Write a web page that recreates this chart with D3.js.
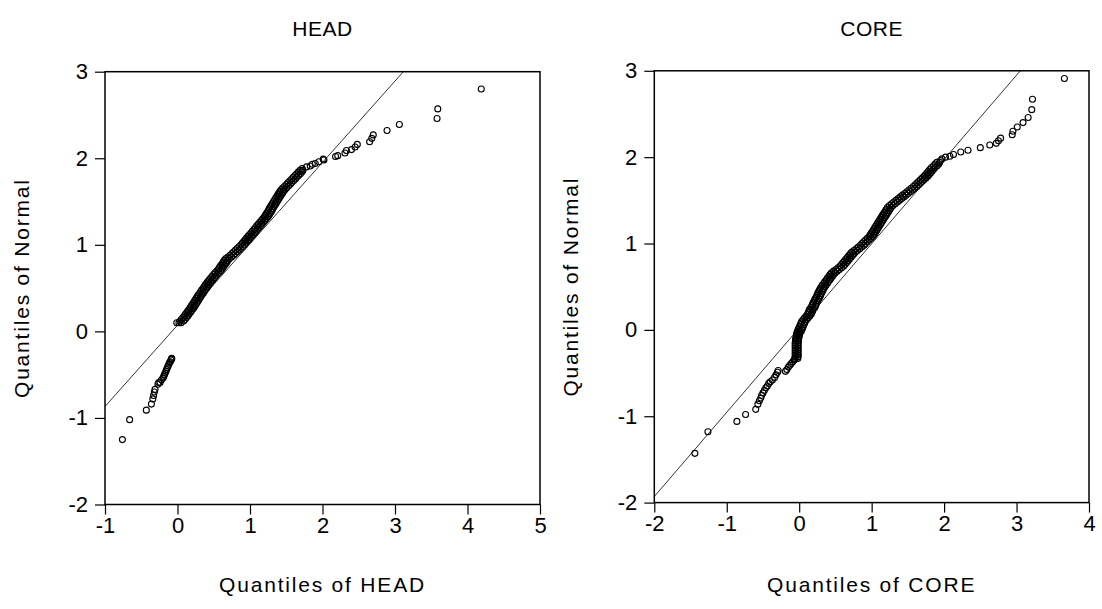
<!DOCTYPE html>
<html>
<head>
<meta charset="utf-8">
<script src="https://cdn.jsdelivr.net/npm/d3@7"></script>
<style>
  body { margin: 0; background: #fff; }
  svg { display: block; font-family: Arial, "Liberation Sans", sans-serif; }
</style>
</head>
<body>
<svg id="chart" width="1102" height="609"></svg>
<script>
// ---- data (x = sample quantile, y = normal quantile)
var headLower = [[-0.76,-1.25],[-0.66,-1.02],[-0.43,-0.91],[-0.36,-0.84],[-0.34,-0.78],[-0.33,-0.74],[-0.32,-0.70],[-0.31,-0.67],
  [-0.27,-0.61],[-0.26,-0.59],[-0.24,-0.59],[-0.22,-0.56],[-0.20,-0.54],[-0.19,-0.52],[-0.18,-0.50],[-0.17,-0.48],[-0.16,-0.46],
  [-0.15,-0.44],[-0.14,-0.42],[-0.13,-0.40],[-0.12,-0.38],[-0.11,-0.36],[-0.10,-0.35],[-0.09,-0.33],[-0.08,-0.32],[-0.08,-0.31]];
var headBand = [[-0.01,0.10],[0.02,0.10],[0.05,0.10],
  [0.035,0.12],[0.085,0.12],[0.055,0.14],[0.105,0.14],[0.075,0.16],[0.125,0.16],[0.095,0.18],[0.145,0.18],
  [0.11,0.20],[0.16,0.20],[0.13,0.22],[0.18,0.22],[0.145,0.24],[0.195,0.24],[0.165,0.26],[0.215,0.26],
  [0.18,0.28],[0.23,0.28],[0.195,0.30],[0.245,0.30],[0.21,0.32],[0.26,0.32],[0.225,0.34],[0.275,0.34],
  [0.24,0.36],[0.29,0.36],[0.255,0.38],[0.305,0.38],[0.27,0.40],[0.32,0.40],[0.285,0.42],[0.335,0.42],
  [0.305,0.44],[0.355,0.44],[0.32,0.46],[0.37,0.46],[0.335,0.48],[0.385,0.48],[0.355,0.50],[0.405,0.50],
  [0.37,0.52],[0.42,0.52],[0.385,0.54],[0.435,0.54],[0.405,0.56],[0.455,0.56],[0.42,0.58],[0.47,0.58],
  [0.44,0.60],[0.49,0.60],[0.46,0.62],[0.51,0.62],[0.48,0.64],[0.53,0.64],[0.50,0.66],[0.55,0.66],
  [0.52,0.68],[0.57,0.68],[0.545,0.70],[0.595,0.70],[0.565,0.72],[0.615,0.72],[0.58,0.74],[0.63,0.74],
  [0.595,0.76],[0.645,0.76],[0.615,0.78],[0.665,0.78],[0.63,0.80],[0.68,0.80],[0.645,0.82],[0.695,0.82],
  [0.665,0.84],[0.715,0.84],[0.695,0.86],[0.745,0.86],[0.725,0.88],[0.775,0.88],[0.75,0.90],[0.80,0.90],
  [0.775,0.92],[0.825,0.92],[0.80,0.94],[0.85,0.94],[0.825,0.96],[0.875,0.96],[0.85,0.98],[0.90,0.98],
  [0.875,1.00],[0.925,1.00],[0.895,1.02],[0.945,1.02],[0.915,1.04],[0.965,1.04],[0.935,1.06],[0.985,1.06],
  [0.955,1.08],[1.005,1.08],[0.975,1.10],[1.025,1.10],[0.995,1.12],[1.045,1.12],[1.015,1.14],[1.065,1.14],
  [1.035,1.16],[1.085,1.16],[1.055,1.18],[1.105,1.18],[1.075,1.20],[1.125,1.20],[1.095,1.22],[1.145,1.22],
  [1.115,1.24],[1.165,1.24],[1.135,1.26],[1.185,1.26],[1.155,1.28],[1.205,1.28],[1.175,1.30],[1.225,1.30],
  [1.195,1.32],[1.245,1.32],[1.21,1.34],[1.26,1.34],[1.225,1.36],[1.275,1.36],[1.24,1.38],[1.29,1.38],
  [1.255,1.40],[1.305,1.40],[1.265,1.42],[1.315,1.42],[1.28,1.44],[1.33,1.44],[1.295,1.46],[1.345,1.46],
  [1.31,1.48],[1.36,1.48],[1.325,1.50],[1.375,1.50],[1.34,1.52],[1.39,1.52],[1.355,1.54],[1.405,1.54],
  [1.37,1.56],[1.42,1.56],[1.385,1.58],[1.435,1.58],[1.40,1.60],[1.45,1.60],[1.415,1.62],[1.465,1.62],
  [1.435,1.64],[1.485,1.64],[1.455,1.66],[1.505,1.66],[1.48,1.68],[1.53,1.68],[1.505,1.70],[1.555,1.70],
  [1.525,1.72],[1.575,1.72],[1.55,1.74],[1.60,1.74],[1.575,1.76],[1.625,1.76],[1.595,1.78],[1.645,1.78],
  [1.62,1.80],[1.67,1.80],[1.645,1.82],[1.695,1.82],[1.665,1.84],[1.715,1.84],[1.69,1.86],[1.73,1.86],[1.72,1.88]];
var headUpper = [[1.78,1.90],[1.83,1.91],[1.86,1.93],[1.90,1.94],[1.95,1.96],[2.01,1.99],[2.02,1.98],[2.18,2.02],[2.21,2.03],
  [2.31,2.06],[2.33,2.09],[2.40,2.10],[2.45,2.13],[2.48,2.16],[2.65,2.19],[2.68,2.23],[2.70,2.27],[2.89,2.32],[3.06,2.39],
  [3.58,2.46],[3.59,2.57],[4.19,2.80]];

var coreLower = [[-1.44,-1.43],[-1.26,-1.18],[-0.86,-1.06],[-0.74,-0.98],[-0.60,-0.92],[-0.57,-0.86],[-0.55,-0.82],[-0.53,-0.79],
  [-0.52,-0.76],[-0.50,-0.73],[-0.48,-0.70],[-0.46,-0.67],[-0.44,-0.65],[-0.42,-0.62],[-0.40,-0.60],[-0.37,-0.58],[-0.34,-0.55],
  [-0.32,-0.52],[-0.30,-0.49],[-0.29,-0.47],[-0.19,-0.48],[-0.17,-0.46],[-0.15,-0.43],[-0.13,-0.41],[-0.11,-0.39],[-0.09,-0.37],
  [-0.07,-0.35],[-0.06,-0.34]];
var coreStem = [[-0.06,-0.33],[-0.02,-0.33],[-0.055,-0.31],[-0.015,-0.31],[-0.055,-0.29],[-0.015,-0.29],[-0.055,-0.27],[-0.015,-0.27],
  [-0.055,-0.25],[-0.015,-0.25],[-0.055,-0.23],[-0.015,-0.23],[-0.055,-0.21],[-0.015,-0.21],[-0.055,-0.19],[-0.015,-0.19],
  [-0.055,-0.17],[-0.015,-0.17],[-0.055,-0.15],[-0.015,-0.15],[-0.05,-0.13],[-0.01,-0.13],[-0.05,-0.11],[-0.01,-0.11],
  [-0.045,-0.09],[-0.005,-0.09],[-0.04,-0.07],[0.00,-0.07],[-0.035,-0.05],[0.005,-0.05],[-0.03,-0.03],[0.01,-0.03]];
var coreBand = [[-0.025,-0.02],[0.025,-0.02],[-0.015,0.00],[0.035,0.00],[-0.005,0.02],[0.045,0.02],[0.005,0.04],[0.055,0.04],
  [0.015,0.06],[0.065,0.06],[0.025,0.08],[0.075,0.08],[0.035,0.10],[0.085,0.10],[0.055,0.12],[0.105,0.12],
  [0.075,0.14],[0.125,0.14],[0.095,0.16],[0.145,0.16],[0.115,0.18],[0.165,0.18],[0.125,0.20],[0.175,0.20],
  [0.135,0.22],[0.185,0.22],[0.145,0.24],[0.195,0.24],[0.165,0.26],[0.215,0.26],[0.175,0.28],[0.225,0.28],
  [0.185,0.30],[0.235,0.30],[0.195,0.32],[0.245,0.32],[0.21,0.34],[0.26,0.34],[0.22,0.36],[0.27,0.36],
  [0.235,0.38],[0.285,0.38],[0.245,0.40],[0.295,0.40],[0.255,0.42],[0.305,0.42],[0.265,0.44],[0.315,0.44],
  [0.28,0.46],[0.33,0.46],[0.29,0.48],[0.34,0.48],[0.305,0.50],[0.355,0.50],[0.32,0.52],[0.37,0.52],
  [0.34,0.54],[0.39,0.54],[0.355,0.56],[0.405,0.56],[0.375,0.58],[0.425,0.58],[0.39,0.60],[0.44,0.60],
  [0.41,0.62],[0.46,0.62],[0.425,0.64],[0.475,0.64],[0.445,0.66],[0.495,0.66],[0.475,0.68],[0.525,0.68],
  [0.505,0.70],[0.555,0.70],[0.535,0.72],[0.585,0.72],[0.565,0.74],[0.615,0.74],[0.585,0.76],[0.635,0.76],
  [0.605,0.78],[0.655,0.78],[0.625,0.80],[0.675,0.80],[0.645,0.82],[0.695,0.82],[0.665,0.84],[0.715,0.84],
  [0.685,0.86],[0.735,0.86],[0.705,0.88],[0.755,0.88],[0.725,0.90],[0.775,0.90],[0.755,0.92],[0.805,0.92],
  [0.785,0.94],[0.835,0.94],[0.815,0.96],[0.865,0.96],[0.845,0.98],[0.895,0.98],[0.865,1.00],[0.915,1.00],
  [0.89,1.02],[0.94,1.02],[0.915,1.04],[0.965,1.04],[0.94,1.06],[0.99,1.06],[0.965,1.08],[1.015,1.08],
  [0.98,1.10],[1.03,1.10],[0.995,1.12],[1.045,1.12],[1.01,1.14],[1.06,1.14],[1.025,1.16],[1.075,1.16],
  [1.04,1.18],[1.09,1.18],[1.055,1.20],[1.105,1.20],[1.07,1.22],[1.12,1.22],[1.085,1.24],[1.135,1.24],
  [1.10,1.26],[1.15,1.26],[1.115,1.28],[1.165,1.28],[1.13,1.30],[1.18,1.30],[1.145,1.32],[1.195,1.32],
  [1.16,1.34],[1.21,1.34],[1.175,1.36],[1.225,1.36],[1.19,1.38],[1.24,1.38],[1.205,1.40],[1.255,1.40],
  [1.22,1.42],[1.27,1.42],[1.245,1.44],[1.295,1.44],[1.275,1.46],[1.325,1.46],[1.305,1.48],[1.355,1.48],
  [1.335,1.50],[1.385,1.50],[1.365,1.52],[1.415,1.52],[1.395,1.54],[1.445,1.54],[1.425,1.56],[1.475,1.56],
  [1.455,1.58],[1.505,1.58],[1.485,1.60],[1.535,1.60],[1.515,1.62],[1.565,1.62],[1.545,1.64],[1.595,1.64],
  [1.575,1.66],[1.625,1.66],[1.60,1.68],[1.65,1.68],[1.625,1.70],[1.675,1.70],[1.65,1.72],[1.70,1.72],
  [1.675,1.74],[1.725,1.74],[1.70,1.76],[1.75,1.76],[1.725,1.78],[1.775,1.78],[1.745,1.80],[1.795,1.80],
  [1.765,1.82],[1.815,1.82],[1.785,1.84],[1.835,1.84],[1.805,1.86],[1.855,1.86],[1.825,1.88],[1.875,1.88],
  [1.855,1.90],[1.905,1.90],[1.875,1.92],[1.925,1.92],[1.90,1.94],[1.94,1.94],[1.95,1.96],[1.97,1.98]];
var coreUpper = [[2.02,2.00],[2.08,2.01],[2.13,2.03],[2.23,2.06],[2.33,2.08],[2.50,2.11],[2.63,2.14],[2.72,2.16],[2.75,2.19],
  [2.78,2.22],[2.94,2.26],[2.95,2.30],[3.01,2.35],[3.09,2.40],[3.16,2.46],[3.21,2.55],[3.22,2.67],[3.66,2.91]];

// reference lines: [intercept, slope]
var headFit = [0.072, 0.94];
var coreFit = [0.022, 0.976];

var normalTicks = [-2, -1, 0, 1, 2, 3];
var headTicks = [-1, 0, 1, 2, 3, 4, 5];
var coreTicks = [-2, -1, 0, 1, 2, 3, 4];

var svg = d3.select('#chart');

function panel(cfg) {
  var x = d3.scaleLinear().domain(d3.extent(cfg.xticks)).range([cfg.left, cfg.right]);
  var y = d3.scaleLinear().domain(d3.extent(normalTicks)).range([cfg.bottom, cfg.top]);
  var g = svg.append('g');

  g.append('clipPath').attr('id', cfg.id + '-clip')
    .append('rect').attr('x', cfg.left).attr('y', cfg.top)
    .attr('width', cfg.right - cfg.left).attr('height', cfg.bottom - cfg.top);

  // fitted line
  var xd = x.domain();
  g.append('line').attr('clip-path', 'url(#' + cfg.id + '-clip)')
    .attr('x1', x(xd[0])).attr('y1', y(cfg.fit[0] + cfg.fit[1] * xd[0]))
    .attr('x2', x(xd[1])).attr('y2', y(cfg.fit[0] + cfg.fit[1] * xd[1]))
    .attr('stroke', '#000').attr('stroke-width', 0.8);

  // points
  g.append('g').selectAll('circle').data(cfg.points).join('circle')
    .attr('cx', function(d) { return x(d[0]); })
    .attr('cy', function(d) { return y(d[1]); })
    .attr('r', 3)
    .attr('fill', 'none').attr('stroke', '#000').attr('stroke-width', 1.1);

  // frame
  g.append('rect').attr('x', cfg.left).attr('y', cfg.top)
    .attr('width', cfg.right - cfg.left).attr('height', cfg.bottom - cfg.top)
    .attr('fill', 'none').attr('stroke', '#000').attr('stroke-width', 1.5);

  var fmt = function(d) { return String(d); };
  var yAxis = g.append('g').attr('transform', 'translate(' + cfg.left + ',0)')
    .call(d3.axisLeft(y).tickValues(normalTicks).tickSize(10).tickPadding(7).tickFormat(fmt));
  var xAxis = g.append('g').attr('transform', 'translate(0,' + cfg.bottom + ')')
    .call(d3.axisBottom(x).tickValues(cfg.xticks).tickSize(10).tickPadding(3).tickFormat(fmt));
  [yAxis, xAxis].forEach(function(a) {
    a.select('.domain').remove();
    a.selectAll('line').attr('stroke', '#000').attr('stroke-width', 1.2);
    a.selectAll('text').attr('font-size', 22).attr('fill', '#000').attr('font-family', 'Arial, "Liberation Sans", sans-serif');
  });

  var cx = (cfg.left + cfg.right) / 2;
  var cy = (cfg.top + cfg.bottom) / 2;
  g.append('text').attr('x', cx).attr('y', 36).attr('text-anchor', 'middle')
    .attr('font-size', 21).attr('letter-spacing', 0.5).text(cfg.title);
  g.append('text').attr('x', cx).attr('y', 592).attr('text-anchor', 'middle')
    .attr('font-size', 21).attr('letter-spacing', 1.8).text(cfg.xlabel);
  g.append('text').attr('transform', 'translate(' + cfg.ylabelX + ',' + cy + ') rotate(-90)')
    .attr('text-anchor', 'middle').attr('font-size', 21).attr('letter-spacing', 1.8).text('Quantiles of Normal');
}

panel({ id: 'head', title: 'HEAD', xlabel: 'Quantiles of HEAD', xticks: headTicks, fit: headFit,
  points: headLower.concat(headBand, headUpper),
  left: 105, right: 540, top: 71.7, bottom: 504.5, ylabelX: 29 });
panel({ id: 'core', title: 'CORE', xlabel: 'Quantiles of CORE', xticks: coreTicks, fit: coreFit,
  points: coreLower.concat(coreStem, coreBand, coreUpper),
  left: 654.3, right: 1089, top: 70.8, bottom: 502.6, ylabelX: 578 });
</script>
</body>
</html>
